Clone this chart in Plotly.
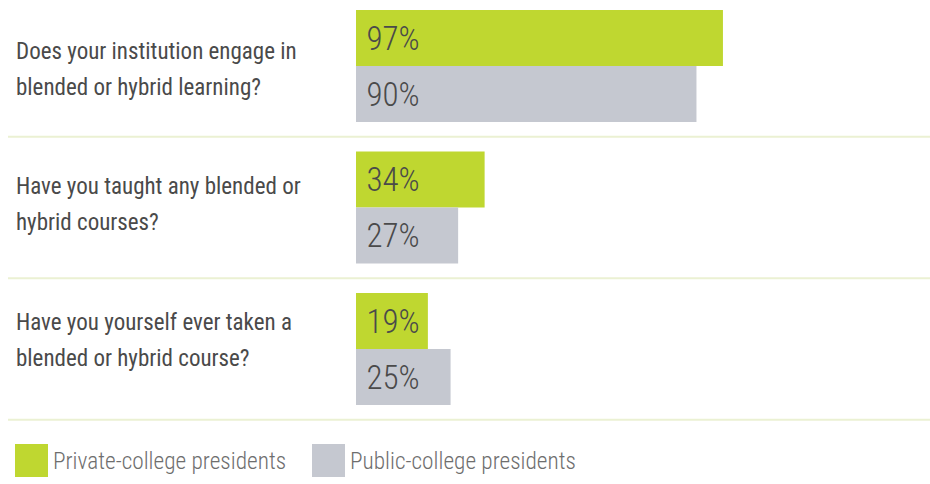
import plotly.graph_objects as go

# Survey questions (one list of lines per question) and the two groups of respondents
questions = [
    ["Does your institution engage in", "blended or hybrid learning?"],
    ["Have you taught any blended or", "hybrid courses?"],
    ["Have you yourself ever taken a", "blended or hybrid course?"],
]
series_names = ["Private-college presidents", "Public-college presidents"]
private_pct = [97, 34, 19]
public_pct = [90, 27, 25]

GREEN = "#bfd730"
GRAY = "#c5c8d0"
TEXT = "#4a4a4a"
LEGEND_TEXT = "#6e6e6e"
RULE = "#ebf1d3"
FONT = "Roboto Condensed, DejaVu Sans Condensed, sans-serif"

W, H = 930, 484
cats = [" ".join(q) for q in questions]

fig = go.Figure()
for name, vals, color in [(series_names[0], private_pct, GREEN),
                          (series_names[1], public_pct, GRAY)]:
    fig.add_trace(go.Bar(
        y=cats, x=vals, name=name, orientation="h",
        marker=dict(color=color, line=dict(width=0)),
        text=[f"\u00a0{v}%" for v in vals],
        textposition="inside", insidetextanchor="start",
        textfont=dict(family=FONT, size=33, color=TEXT, weight=300),
        constraintext="none",
        showlegend=False, hoverinfo="skip",
    ))

# Question labels on the left, one annotation per line;
# each block sits a little higher than the one before it
block_shift = [3, -3, -9]
line_gap = 36
for cat, lines, dy in zip(cats, questions, block_shift):
    n = len(lines)
    for i, line in enumerate(lines):
        fig.add_annotation(
            x=14 / W, xref="paper", xanchor="left",
            y=cat, yref="y", yanchor="middle",
            yshift=-(i - (n - 1) / 2) * line_gap - dy,
            text=line, showarrow=False,
            font=dict(family=FONT, size=23, color=TEXT),
        )

# Thin rules below each question block
for k in range(len(cats)):
    fig.add_shape(type="line", xref="paper", yref="y",
                  x0=8 / W, x1=1, y0=k + 0.5, y1=k + 0.5,
                  line=dict(color=RULE, width=2))

# Legend drawn as swatches with labels along the bottom
legend_x = [15, 312]
for name, color, lx in zip(series_names, [GREEN, GRAY], legend_x):
    fig.add_shape(type="rect", xref="paper", yref="paper",
                  x0=lx / W, x1=(lx + 33) / W,
                  y0=1 - 477 / H, y1=1 - 444 / H,
                  fillcolor=color, line=dict(width=0))
    fig.add_annotation(
        x=(lx + 35.5) / W, xref="paper", xanchor="left",
        y=1 - 460.5 / H, yref="paper", yanchor="middle",
        text=name, showarrow=False,
        font=dict(family=FONT, size=23.3, color=LEGEND_TEXT, weight=300),
    )

px_per_pct = 3.783
pitch = 141.5
top = -66 / pitch
fig.update_layout(
    width=W, height=H,
    margin=dict(l=0, r=0, t=0, b=0),
    paper_bgcolor="white", plot_bgcolor="white",
    barmode="group", bargap=(pitch - 112) / pitch, bargroupgap=0,
    xaxis=dict(domain=[356 / W, 1], range=[0, (W - 356) / px_per_pct],
               visible=False, fixedrange=True),
    yaxis=dict(range=[top + H / pitch, top], visible=False,
               categoryorder="array", categoryarray=cats, fixedrange=True),
    font=dict(family=FONT),
)

fig.write_html("out.html")
